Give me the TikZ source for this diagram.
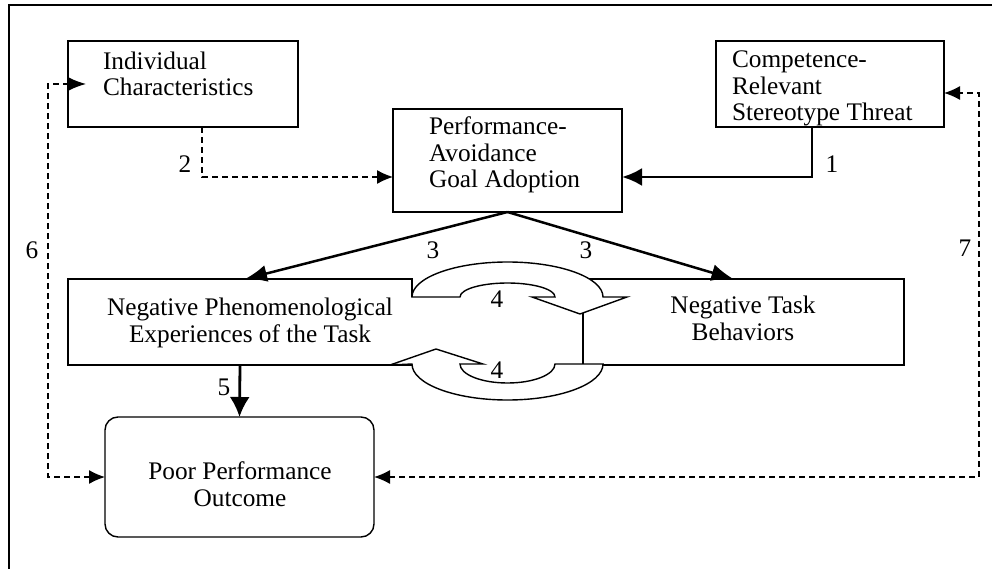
\documentclass[tikz,border=0pt]{standalone}
\usepackage{fontspec}
\setmainfont{Liberation Serif}
\usetikzlibrary{arrows.meta,calc}
\begin{document}
\begin{tikzpicture}[x=1pt,y=-1pt,
  box/.style={draw, line width=1.4pt, inner sep=0pt, outer sep=0pt},
  txt/.style={font=\fontsize{25.3}{26.5}\selectfont, inner sep=0pt, outer sep=0pt},
  dsh/.style={line width=1.3pt, dash pattern=on 6pt off 4pt},
  thk/.style={line width=2.8pt},
  blk/.style={draw, fill=white, line width=1.4pt, line join=miter}
]
\useasboundingbox (0,0) rectangle (992,569);
% frame
\draw[line width=1.6pt] (9,569) -- (9,5) -- (992,5);

% boxes
\node[box, minimum width=230pt, minimum height=86pt] (ic) at (183,84) {};
\node[txt, anchor=base west, align=left] (ict) at (103,96) {Individual\\Characteristics};

\node[box, minimum width=228pt, minimum height=86pt] (ct) at (830,84) {};
\node[txt, anchor=base west, align=left] (ctt) at (732,121) {Competence-\\Relevant\\Stereotype Threat};

\node[box, minimum width=229pt, minimum height=103pt] (pa) at (507.5,160.5) {};
\node[txt, anchor=base west, align=left] (pat) at (429,188) {Performance-\\Avoidance\\Goal Adoption};

\node[inner sep=0pt, outer sep=0pt, minimum width=344pt, minimum height=86pt] (np) at (240,322) {};
\draw[line width=1.4pt] ([yshift=-18pt]np.north east) -- (np.north east) -- (np.north west) -- (np.south west) -- (np.south east);
\node[txt, anchor=base, align=center] (npt) at (250,342) {Negative Phenomenological\\Experiences of the Task};

\node[box, minimum width=321pt, minimum height=86pt] (nt) at (743.5,322) {};
\node[txt, anchor=base, align=center] (ntt) at (743,340) {Negative Task\\Behaviors};

\node[box, rounded corners=13pt, minimum width=269pt, minimum height=120pt] (pp) at (239.5,477) {};
\node[txt, anchor=base, align=center] (ppt) at (240,506) {Poor Performance\\Outcome};

% connectors
\draw[dsh, -{Latex[length=16pt,width=14pt]}] ([xshift=19pt]ic.south) |- ([yshift=-16.5pt]pa.west);
\draw[thk, -{Latex[length=20pt,width=18pt]}] ([xshift=-18pt]ct.south) |- ([yshift=-16.5pt]pa.east);
\draw[line width=2.5pt, -{Latex[length=22pt,width=17pt]}] (pa.south) -- ([xshift=5pt]np.north);
\draw[line width=2.5pt, -{Latex[length=22pt,width=17pt]}] (pa.south) -- ([xshift=-10pt]nt.north);
\draw[thk, -{Latex[length=20pt,width=20pt]}] (np.south) -- (pp.north);
\draw[dsh, {Latex[length=16pt,width=14pt]}-{Latex[length=18pt,width=14pt]}, shorten >=-18pt] (pp.west) -- ++(-57pt,0pt) |- (ic.west);
\draw[dsh, {Latex[length=16pt,width=14pt]}-{Latex[length=16pt,width=14pt]}] (pp.east) -- ++(605pt,0pt) |- ([yshift=-9pt]ct.east);

% circular block arrows
\draw[blk] (412,297) -- (460,297) arc[start angle=180,end angle=0,x radius=47.5pt,y radius=14pt] -- (532,297) -- (580,314) -- (627,297) -- (603,297) arc[start angle=0,end angle=180,x radius=95.5pt,y radius=35pt] -- cycle;
\draw[blk] (603,364) -- (555,364) arc[start angle=0,end angle=-180,x radius=47.5pt,y radius=19pt] -- (483,364) -- (436,349) -- (390,365) -- (412,364) arc[start angle=180,end angle=360,x radius=95.5pt,y radius=36pt] -- cycle;

% numbers
\node[txt] (n1) at (832,164) {1};
\node[txt] (n2) at (185,164) {2};
\node[txt] (n3a) at (433,250) {3};
\node[txt] (n3b) at (586,250) {3};
\node[txt] (n4a) at (497,299) {4};
\node[txt] (n4b) at (497,370) {4};
\node[txt] (n5) at (224,387) {5};
\node[txt] (n6) at (32,250) {6};
\node[txt] (n7) at (965,248) {7};
\end{tikzpicture}
\end{document}
